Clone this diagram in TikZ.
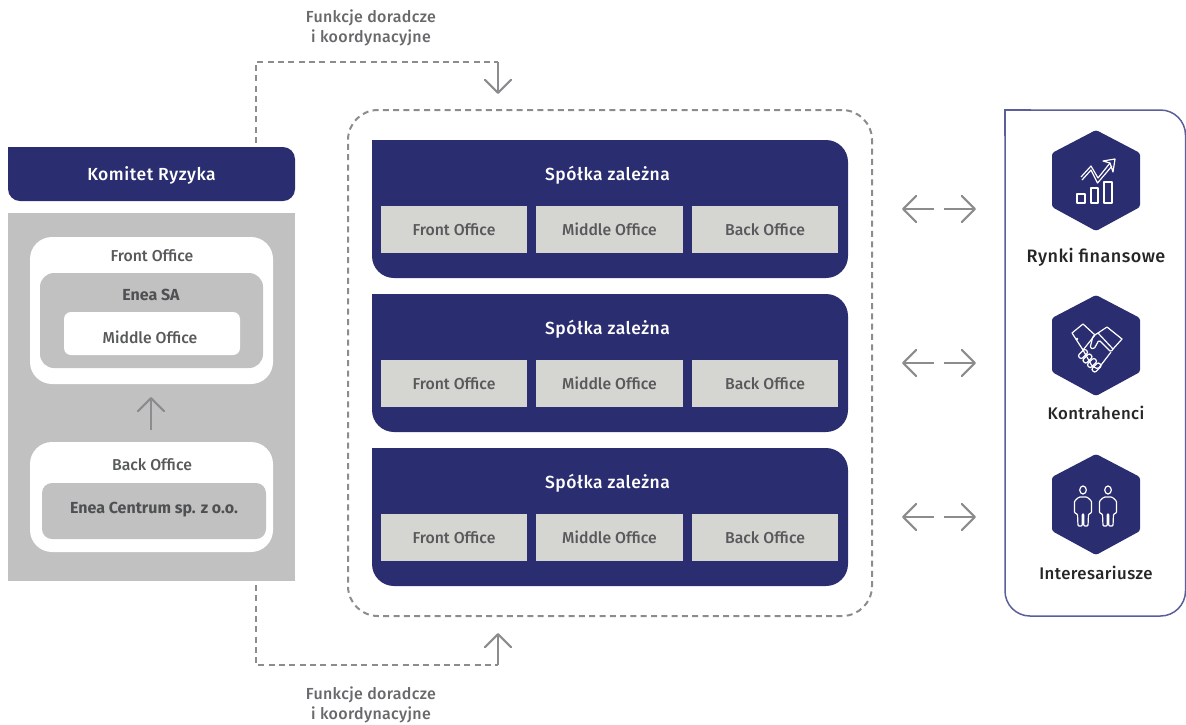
\documentclass[tikz,border=0pt]{standalone}
\usepackage{fontspec}
\setmainfont{Fira Sans}
\newfontfamily\spacedf{Fira Sans Medium}[LetterSpace=3]
\newfontfamily\lightspacedf{Fira Sans Medium}[LetterSpace=2]
\newfontfamily\mediumf{Fira Sans Medium}
\newfontfamily\sidef{Fira Sans Medium}[LetterSpace=2.5]
\usetikzlibrary{arrows.meta,positioning,calc}
\definecolor{navy}{HTML}{2A2D70}
\definecolor{panelgrey}{HTML}{C1C1C1}
\definecolor{officegrey}{HTML}{D5D6D2}
\definecolor{linegrey}{HTML}{8A8C8E}
\definecolor{txtgrey}{HTML}{58595B}
\definecolor{framec}{HTML}{5A5F9A}
\tikzset{
  x=1pt,y=-1pt,
  every node/.style={inner sep=0pt,outer sep=0pt,font=\fontsize{15.8}{18}\selectfont\mediumf},
  box/.style={draw=none,rectangle,align=center},
  spaced/.style={font=\fontsize{17.5}{20}\selectfont\spacedf},
  funk/.style={font=\fontsize{16}{20}\selectfont\lightspacedf,text=linegrey!75!black,align=center},
  office/.style={box,fill=officegrey,text=txtgrey,minimum width=146.5pt,minimum height=47pt},
  label/.style={text=txtgrey,align=center},
  boldlabel/.style={text=txtgrey!90!black,align=center,font=\fontsize{16}{18}\selectfont\bfseries},
  bigarrow/.style={draw=linegrey,line width=2.2pt,-{Straight Barb[length=13pt,width=26pt,line width=2.2pt,round]}},
  dashline/.style={draw=linegrey,line width=2pt,dash pattern=on 6pt off 4.3pt},
  iconline/.style={draw=white,line width=1.2pt,line join=round},
  sidelabel/.style={text=black!85,font=\fontsize{16.8}{18}\selectfont\sidef},
  sidelabelwide/.style={text=black!85,font=\fontsize{18}{18}\selectfont\sidef},
}
\newcommand{\spolka}[2]{%
  \node[box,fill=navy,rounded corners=22pt,minimum width=476pt,minimum height=138pt] (#1box) at (610,#2+69) {};
  \fill[navy] (372,#2) rectangle (398,#2+26);
  \node[text=white,spaced] (#1t) at (607.5,#2+35) {Spółka zależna};
  \node[office] (#1f) at (454,#2+89.5) {Front Office};
  \node[office] (#1m) at (609.5,#2+89.5) {Middle Office};
  \node[office] (#1b) at (765,#2+89.5) {Back Office};
}
\newcommand{\hexagonshape}[2]{%
  \fill[navy,rounded corners=2.5pt] (1118,#2+11.5) -- (1140,#2+23) -- (1140,#2+77) -- (1096,#2+101) -- (1052,#2+77) -- (1052,#2+23) -- (1096,#2) -- cycle;
  \coordinate (#1) at (1096,#2+50);
}
\newcommand{\person}[1]{%
  \draw[iconline] (#1,490) ellipse (3.3 and 4);
  \draw[iconline,rounded corners=1pt] (#1-4,497) -- (#1+4,497) -- (#1+8.5,501) -- (#1+8.5,513) -- (#1+5.5,514) -- (#1+5,526) -- (#1+.8,526) -- (#1+.8,514) -- (#1-.8,514) -- (#1-.8,526) -- (#1-5,526) -- (#1-5.5,514) -- (#1-8.5,513) -- (#1-8.5,501) -- cycle;
}
\begin{document}
\begin{tikzpicture}
\useasboundingbox (0,0) rectangle (1186,724);
% left column
\node[box,fill=navy,rounded corners=12pt,minimum width=287pt,minimum height=54pt] (kombox) at (151.5,174) {};
\fill[navy] (8,147) rectangle (22,161);
\node[text=white,spaced] (komitet) at (151.5,175) {Komitet Ryzyka};
\fill[panelgrey] (8,213) rectangle (295,581);
\node[box,fill=white,rounded corners=22pt,minimum width=243pt,minimum height=147pt] (frontbox) at (151.5,310.5) {};
\node[box,fill=panelgrey,rounded corners=14pt,minimum width=223pt,minimum height=95pt] (eneabox) at (151.5,320.5) {};
\node[box,fill=white,rounded corners=7pt,minimum width=176pt,minimum height=43pt,text=txtgrey] (midbox) at (152,333.5) {};
\node[label] (frontl) at (152,255.5) {Front Office};
\node[boldlabel] (enea) at (151,295) {Enea SA};
\node[label] (midl) at (150,337) {Middle Office};
\node[box,fill=white,rounded corners=22pt,minimum width=243pt,minimum height=110pt] (backbox) at (151.5,497) {};
\node[box,fill=panelgrey,rounded corners=10pt,minimum width=224pt,minimum height=56pt] (centbox) at (154,511) {};
\node[label] (backl) at (152,465) {Back Office};
\node[boldlabel] (cent) at (154,510) {Enea Centrum sp. z o.o.};
\coordinate (upS) at (151,430);
\coordinate (upE) at (151,397);
\draw[bigarrow] (upS) -- (upE);
% dashed frame
\node[box,draw=linegrey,line width=2pt,dash pattern=on 6pt off 4.3pt,rounded corners=30pt,minimum width=524pt,minimum height=506pt] (frame) at (610,363) {};
% subsidiaries
\spolka{a}{140}
\spolka{b}{294}
\spolka{c}{448}
% advisory connectors
\coordinate (ts) at (256,143);
\coordinate (tc) at (256,62);
\coordinate (te) at (498,62);
\coordinate (ta) at (498,94);
\draw[dashline] (ts) -- (tc) -- (te);
\draw[bigarrow] (te) -- (ta);
\coordinate (bs) at (256,585);
\coordinate (bc) at (256,665);
\coordinate (be) at (498,665);
\coordinate (ba) at (498,633);
\draw[dashline] (bs) -- (bc) -- (be);
\draw[bigarrow] (be) -- (ba);
\node[funk] (tl) at (371,28) {Funkcje doradcze\\ i koordynacyjne};
\node[funk] (bl) at (371,705) {Funkcje doradcze\\ i koordynacyjne};
% right panel
\node[box,draw=framec,line width=1.5pt,rounded corners=25pt,minimum width=180.5pt,minimum height=506pt] (panel) at (1095.25,363) {};
\fill[white] (1004,109) rectangle (1031,136);
\draw[framec,line width=1.5pt] (1005,136) -- (1005,110) -- (1031,110);
% side arrows
\foreach \n/\y in {a/209,b/363,c/517}{
  \coordinate (\n l1) at (934,\y); \coordinate (\n l2) at (902,\y);
  \coordinate (\n r1) at (944,\y); \coordinate (\n r2) at (976,\y);
  \draw[bigarrow] (\n l1) -- (\n l2);
  \draw[bigarrow] (\n r1) -- (\n r2);
}
% hexagons
\hexagonshape{h1}{130}
\hexagonshape{h2}{295}
\hexagonshape{h3}{454}
\node[sidelabelwide] (l1) at (1096,257) {Rynki finansowe};
\node[sidelabel] (l2) at (1096,413) {Kontrahenci};
\node[sidelabel] (l3) at (1096,573) {Interesariusze};
% icon chart
\draw[iconline] (1077,194) rectangle (1085,203);
\draw[iconline] (1091,188) rectangle (1098,203);
\draw[iconline] (1104,182) rectangle (1112,203);
\draw[iconline] (1081,177) -- (1091,166) -- (1098,178) -- (1110,163);
\draw[iconline] (1082,180) -- (1091,170) -- (1097.5,183) -- (1112,166);
\draw[iconline] (1103,161) -- (1115,159) -- (1113,172) -- (1110,163) -- cycle;
% icon handshake
\draw[iconline] (1072,333) -- (1083,324) -- (1095,335) -- (1083,350) -- cycle;
\fill[white] (1077,339) circle (1.4);
\draw[iconline] (1107,327) -- (1122,339) -- (1113,349) -- (1098,333) -- cycle;
\draw[iconline,rounded corners=1.5pt] (1098,333) -- (1093,336) -- (1090,348) -- (1094,349) -- (1099,340) -- (1111,352) -- (1113,349);
\draw[iconline,rounded corners=1.5pt] (1083,350) -- (1092,366) -- (1098,369) -- (1111,352);
\foreach \p in {0,1,2,3}{
  \draw[iconline,rotate around={45:(1083+4.5*\p,354+4.5*\p)},rounded corners=2pt] (1078+4.5*\p,351.5+4.5*\p) rectangle (1088+4.5*\p,356.5+4.5*\p);
}
% icon persons
\person{1083}
\person{1108}
\end{tikzpicture}
\end{document}
